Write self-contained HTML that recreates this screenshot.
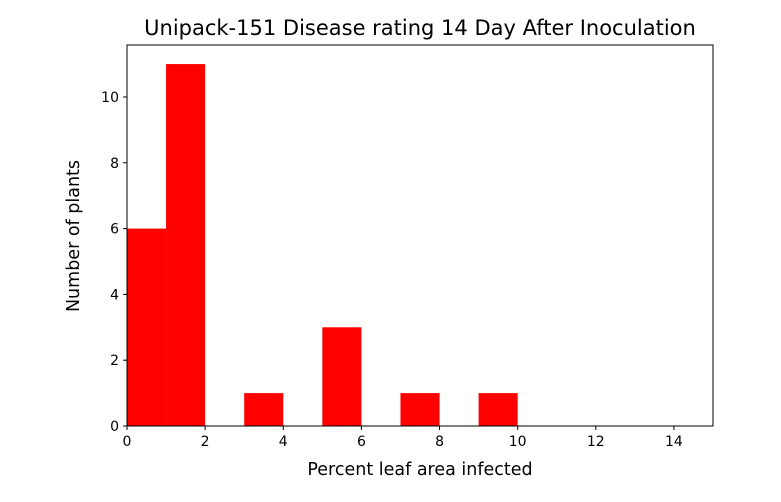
<!DOCTYPE html>
<html><head><meta charset="utf-8"><style>
body{margin:0;background:#fff;}
svg text{font-family:"DejaVu Sans","Liberation Sans",sans-serif;fill:#000;}
</style></head><body>
<svg width="781" height="497">
<g id="marks"></g>
<g id="axes"></g>
<text x="420" y="35" text-anchor="middle" font-size="21">Unipack-151 Disease rating 14 Day After Inoculation</text>
<text x="420" y="475" text-anchor="middle" font-size="17.5">Percent leaf area infected</text>
<text transform="translate(79,236) rotate(-90)" text-anchor="middle" font-size="17.5">Number of plants</text>
</svg>
<script>
const binStarts=[0,1,2,3,4,5,6,7,8,9,10,11,12,13,14];
const counts=[6,11,0,1,0,3,0,1,0,1,0,0,0,0,0];
const xTicks=[0,2,4,6,8,10,12,14];
const yTicks=[0,2,4,6,8,10];
const L=127,R=713,T=45,B=426;
const xMax=15,yMax=11.58;
const sx=v=>L+(R-L)*v/xMax;
const sy=v=>B-(B-T)*v/yMax;
const ns="http://www.w3.org/2000/svg";
const marks=document.getElementById('marks'),axes=document.getElementById('axes');
function mk(tag,attrs,parent){const e=document.createElementNS(ns,tag);for(const k in attrs)e.setAttribute(k,attrs[k]);parent.appendChild(e);return e;}
binStarts.forEach((b,i)=>{if(counts[i]<=0)return;
const r=mk('rect',{x:sx(b),y:sy(counts[i]),width:sx(b+1)-sx(b),height:sy(0)-sy(counts[i]),fill:'#ff0000'},marks);

});
const frame=mk('rect',{x:L,y:T,width:R-L,height:B-T,fill:'none',stroke:'#000','stroke-width':1},axes);


xTicks.forEach(t=>{const x=sx(t);mk('line',{x1:x,x2:x,y1:B,y2:B+4,stroke:'#000'},axes);
const tx=mk('text',{x:x,y:B+20,'text-anchor':'middle','font-size':14},axes);tx.textContent=t;

});
yTicks.forEach(t=>{const y=sy(t);mk('line',{x1:L-4,x2:L,y1:y,y2:y,stroke:'#000'},axes);
const tx=mk('text',{x:L-8,y:y+5,'text-anchor':'end','font-size':14},axes);tx.textContent=t;

});
</script>
</body></html>
